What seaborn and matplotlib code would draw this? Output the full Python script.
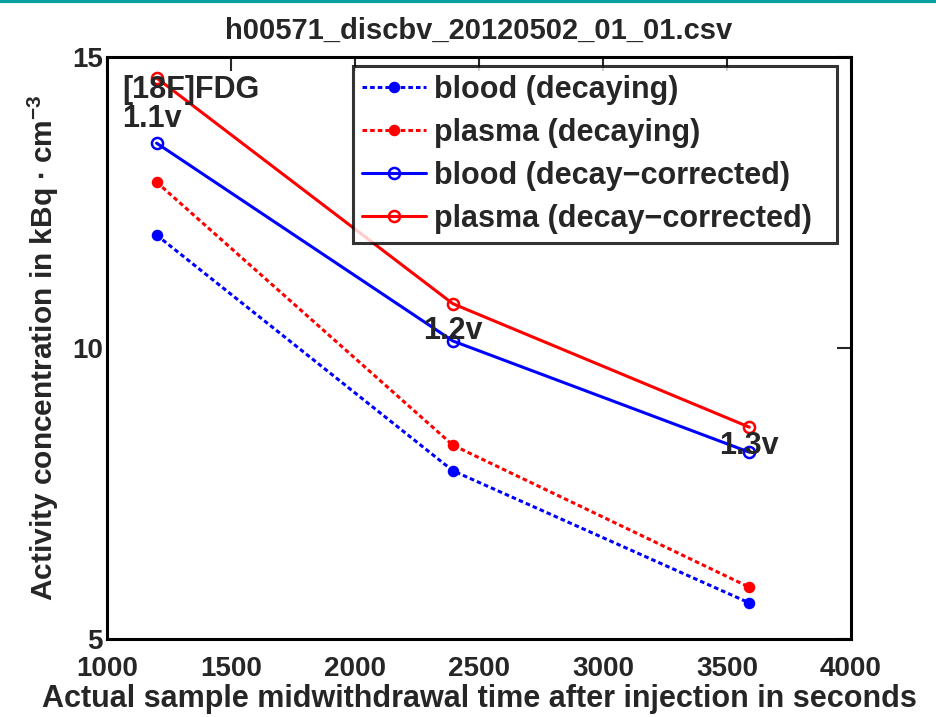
import matplotlib
matplotlib.use("Agg")
import matplotlib.pyplot as plt
import seaborn as sns
import pandas as pd
from matplotlib.lines import Line2D

sns.set_style("white")
plt.rcParams['font.family'] = ['Liberation Sans', 'DejaVu Sans']
plt.rcParams['mathtext.fontset'] = 'custom'
plt.rcParams['mathtext.rm'] = 'Liberation Sans:bold'
plt.rcParams['mathtext.bf'] = 'Liberation Sans:bold'

times = [1200, 2395, 3590]
blood_decaying = [11.94, 7.89, 5.62]
plasma_decaying = [12.85, 8.33, 5.89]
blood_corrected = [13.52, 10.12, 8.21]
plasma_corrected = [14.64, 10.76, 8.64]
labels = ["blood (decaying)", "plasma (decaying)",
          "blood (decay\u2212corrected)", "plasma (decay\u2212corrected)"]
sample_labels = ["1.1v", "1.2v", "1.3v"]
title = "h00571_discbv_20120502_01_01.csv"

fig = plt.figure(figsize=(9.37, 7.17), dpi=100)
ax = fig.add_axes([0.1142, 0.1088, 0.794, 0.8117])

series = [blood_decaying, plasma_decaying, blood_corrected, plasma_corrected]
colors = ["#0000ff", "#ff0000", "#0000ff", "#ff0000"]
styles = [(0, (1.5, 1.0)), (0, (1.5, 1.0)), "-", "-"]
mfc = ["#0000ff", "#ff0000", "none", "none"]
msize = [6.5, 6.5, 8, 8]

for vals, lab, c, ls, fc, ms in zip(series, labels, colors, styles, mfc, msize):
    df = pd.DataFrame({"t": times, "v": vals})
    sns.lineplot(data=df, x="t", y="v", ax=ax, color=c, linestyle=ls, linewidth=2.2,
                 marker="o", markerfacecolor=fc, markeredgecolor=c, markersize=ms,
                 markeredgewidth=1.8, label=lab)

ax.set_xlim(1000, 4000)
ax.set_ylim(5, 15)
ax.set_xticks([1000, 1500, 2000, 2500, 3000, 3500, 4000])
ax.set_yticks([5, 10, 15])
ax.tick_params(direction="in", length=10, width=1.5, top=True, right=True,
               labelsize=20)
ax.tick_params(axis="x", pad=12)
ax.tick_params(axis="y", pad=3)
for lbl in ax.get_xticklabels() + ax.get_yticklabels():
    lbl.set_fontweight("bold")
for s in ax.spines.values():
    s.set_linewidth(2.2)
    s.set_color("black")

ax.set_title(title, fontsize=21, fontweight="bold", pad=13)
ax.set_xlabel("Actual sample midwithdrawal time after injection in seconds",
              fontsize=22, fontweight="bold", labelpad=2)
ax.set_ylabel(r"Activity concentration in kBq $\bullet$ cm$^{\mathbf{-3}}$",
              fontsize=21.5, fontweight="bold", labelpad=8)

ax.text(1060, 14.43, "[18F]FDG", fontsize=22, fontweight="bold", va="center", ha="left")
ax.text(times[0] - 140, 13.93, sample_labels[0], fontsize=22, fontweight="bold", va="center", ha="left")
ax.text(times[1], 10.3, sample_labels[1], fontsize=22, fontweight="bold", va="center", ha="center")
ax.text(times[2] - 120, 8.32, sample_labels[2], fontsize=22, fontweight="bold", va="center", ha="left")

leg = ax.legend(loc="upper left", bbox_to_anchor=(0.3306, 0.0, 0.6505, 0.9845),
                mode="expand", prop={"weight": "bold", "size": 22}, frameon=True,
                fancybox=False, edgecolor="black", handlelength=2.1,
                handletextpad=0.25, borderpad=0.3, labelspacing=0.42, borderaxespad=0)
leg.get_frame().set_linewidth(2.2)

fig.add_artist(Line2D([0, 1], [0.998, 0.998], transform=fig.transFigure,
                      color="#0aa0a0", linewidth=3))

fig.savefig("out.png", dpi=100)
